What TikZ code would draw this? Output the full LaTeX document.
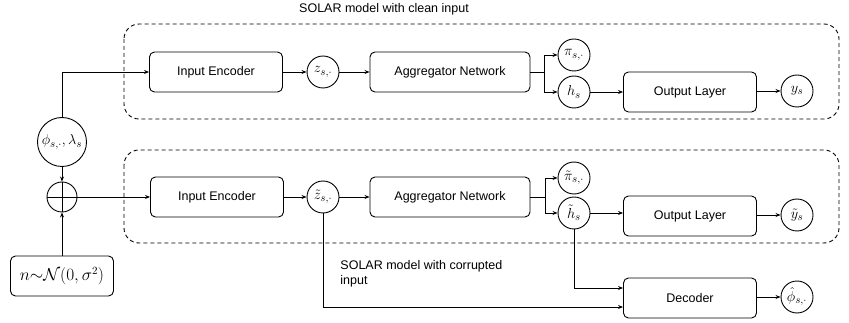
\documentclass[tikz,border=0pt]{standalone}
\usepackage{fontspec}
\setmainfont{Liberation Sans}
\usetikzlibrary{arrows.meta}

\begin{document}
\begin{tikzpicture}[x=1pt,y=-1pt, line width=0.9pt,
            block/.style={rectangle, draw, rounded corners=5pt, minimum height=40pt, inner sep=0pt, font=\fontsize{12.5}{15}\selectfont},
            var/.style={circle, draw, minimum size=32pt, inner sep=0pt, font=\fontsize{15}{17}\selectfont},
            group/.style={draw, dash pattern=on 4pt off 3pt, rounded corners=15pt},
            arr/.style={-{Stealth[length=5pt,width=4pt]}},
            caption/.style={font=\fontsize{12.5}{15}\selectfont, inner sep=0pt}
        ]
            \useasboundingbox (0,0) rectangle (849,323);

            % dashed groups
            \draw[group] (124,24) rectangle (839,119);
            \draw[group] (124,150) rectangle (839,243);
            \node[caption] (cleantitle) at (384,9) {SOLAR model with clean input};
            \node[caption, align=left, anchor=north west] (noisytitle) at (340,260) {SOLAR model with corrupted\\input};

            % clean path
            \node[block, minimum width=133pt] (enc) at (216,72) {Input Encoder};
            \node[var] (z) at (323,72) {$z_{s,\cdot}$};
            \node[block, minimum width=160pt] (agg) at (450,72) {Aggregator Network};
            \node[var] (pi) at (574,55) {$\pi_{s,\cdot}$};
            \node[var] (h) at (574,92) {$h_s$};
            \node[block, minimum width=133pt] (out) at (690,92) {Output Layer};
            \node[var] (y) at (797,91) {$y_s$};

            % input and noise
            \node[var, minimum size=49pt, font=\fontsize{15}{17}\selectfont] (phi) at (62,142) {$\phi_{s,\cdot},\lambda_s$};
            \node[circle, draw, minimum size=30pt, inner sep=0pt] (plus) at (62,197) {};
            \draw (plus.north) -- (plus.south);
            \draw (plus.west) -- (plus.east);
            \node[block, minimum width=103pt, font=\fontsize{16}{18}\selectfont] (noise) at (62,276) {$n{\sim}\mathcal{N}(0,\sigma^2)$};

            % corrupted path
            \node[block, minimum width=133pt] (encn) at (217,197) {Input Encoder};
            \node[var] (zn) at (323,197) {$\tilde{z}_{s,\cdot}$};
            \node[block, minimum width=160pt] (aggn) at (450,197) {Aggregator Network};
            \node[var] (pin) at (574,178) {$\tilde{\pi}_{s,\cdot}$};
            \node[var] (hn) at (574,213) {$\tilde{h}_s$};
            \node[block, minimum width=133pt] (outn) at (690,216) {Output Layer};
            \node[var] (yn) at (797,215) {$\tilde{y}_s$};
            \node[block, minimum width=133pt] (dec) at (690,298) {Decoder};
            \node[var] (phin) at (797,297) {$\hat{\phi}_{s,\cdot}$};

            \draw[arr] (phi.north) |- (enc.west);
            \draw[arr] (enc) -- (z);
            \draw[arr] (z) -- (agg);
            \draw[arr] (agg.east) -- ++(14,0) |- (pi.west);
            \draw[arr] (agg.east) -- ++(14,0) |- (h.west);
            \draw[arr] (h) -- (out.west |- h);
            \draw[arr] (out.east |- y) -- (y);

            \draw[arr] (phi) -- (plus);
            \draw[arr] (noise) -- (plus);
            \draw[arr] (plus) -- (encn);
            \draw[arr] (encn) -- (zn);
            \draw[arr] (zn) -- (aggn);
            \draw[arr] (aggn.east) -- ++(15,0) |- (pin.west);
            \draw[arr] (aggn.east) -- ++(15,0) |- (hn.west);
            \draw[arr] (hn) -- (outn.west |- hn);
            \draw[arr] (outn.east |- yn) -- (yn);
            \draw[arr] (hn.south) |- (dec.west |- 0,288);
            \draw[arr] (zn.south) |- (dec.west |- 0,307);
            \draw[arr] (dec.east |- phin) -- (phin);

        \end{tikzpicture}
\end{document}
